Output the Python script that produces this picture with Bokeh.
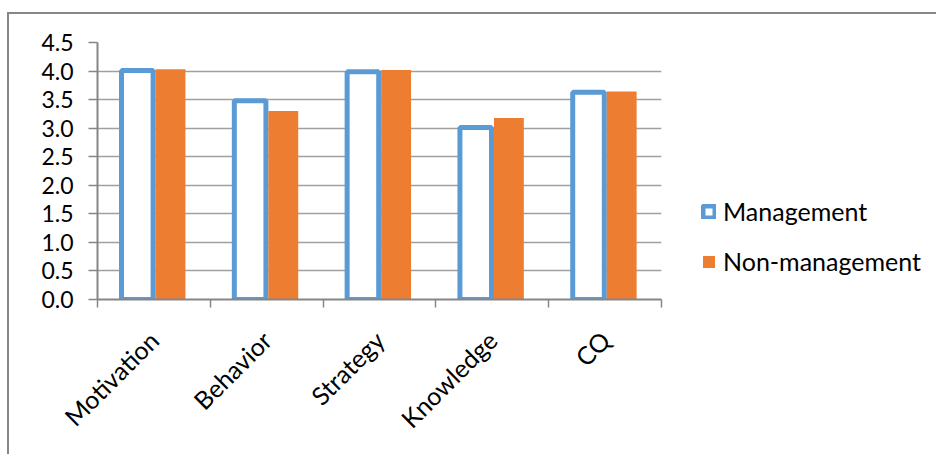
import math
from bokeh.plotting import figure
from bokeh.models import (Range1d, FixedTicker, NumeralTickFormatter, Legend, LegendItem,
                          ColumnDataSource)
from bokeh.transform import dodge
from bokeh.embed import file_html
from bokeh.resources import INLINE

categories = ["Motivation", "Behavior", "Strategy", "Knowledge", "CQ"]
management = [4.01, 3.48, 3.99, 3.01, 3.63]
non_management = [4.03, 3.30, 4.02, 3.18, 3.64]
y_ticks = [0.0, 0.5, 1.0, 1.5, 2.0, 2.5, 3.0, 3.5, 4.0, 4.5]

FONT = "Lato"
GRAY = "#868686"

n = len(categories)
centers = [i + 0.5 for i in range(n)]
edges = [float(i) for i in range(n + 1)]

src = ColumnDataSource(dict(x=centers, management=management, non_management=non_management))

p = figure(x_range=Range1d(0, n), y_range=Range1d(0, 4.5),
           frame_width=564, frame_height=257,
           output_backend="svg", toolbar_location=None,
           min_border_left=88, min_border_right=0, min_border_top=28, min_border_bottom=155)
p.margin = (12, 0, 0, 7)
p.styles = {"border-top": "2px solid #878787", "border-left": "2px solid #878787"}
p.outline_line_color = None
p.background_fill_color = "white"
p.border_fill_color = "white"

r1 = p.vbar(x=dodge("x", -0.147), top="management", width=0.28, bottom=0,
            source=src, fill_color="white", line_color="#5B9BD5", line_width=5)
r2 = p.vbar(x=dodge("x", 0.147), top="non_management", width=0.265, bottom=0,
            source=src, fill_color="#ED7D31", line_color=None)

# y axis
yax = p.yaxis[0]
yax.ticker = FixedTicker(ticks=y_ticks)
yax.formatter = NumeralTickFormatter(format="0.0")
yax.major_tick_in = 0
yax.major_tick_out = 9
yax.minor_tick_line_color = None
yax.axis_line_color = GRAY
yax.axis_line_width = 2
yax.major_tick_line_color = GRAY
yax.major_tick_line_width = 1.5
yax.major_label_standoff = 15
yax.major_label_text_font = FONT
yax.major_label_text_font_size = "23px"
yax.major_label_text_color = "black"

p.ygrid.ticker = FixedTicker(ticks=y_ticks)
p.ygrid.grid_line_color = "#a0a0a0"
p.ygrid.grid_line_width = 1.5
p.xgrid.visible = False

# x axis: labels at category centres, ticks at category edges
xax = p.xaxis[0]
xax.ticker = FixedTicker(ticks=centers, minor_ticks=edges)
xax.major_label_overrides = {c: lab for c, lab in zip(centers, categories)}
xax.major_tick_in = 0
xax.major_tick_out = 0
xax.minor_tick_in = 0
xax.minor_tick_out = 8
xax.minor_tick_line_color = GRAY
xax.minor_tick_line_width = 1.5
xax.axis_line_color = GRAY
xax.axis_line_width = 2
xax.major_label_orientation = math.pi / 4
xax.major_label_standoff = 28
xax.major_label_text_font = FONT
xax.major_label_text_font_size = "25px"
xax.major_label_text_color = "black"

legend = Legend(items=[LegendItem(label="Management", renderers=[r1]),
                       LegendItem(label="Non-management", renderers=[r2])],
                location=(40, 23), orientation="vertical",
                glyph_width=15, glyph_height=15, label_standoff=7, spacing=20,
                padding=0, margin=0, border_line_color=None, background_fill_alpha=0,
                label_text_font=FONT, label_text_font_size="25px", label_text_color="black")
p.add_layout(legend, "right")

open("out.html", "w").write(file_html(p, INLINE))
